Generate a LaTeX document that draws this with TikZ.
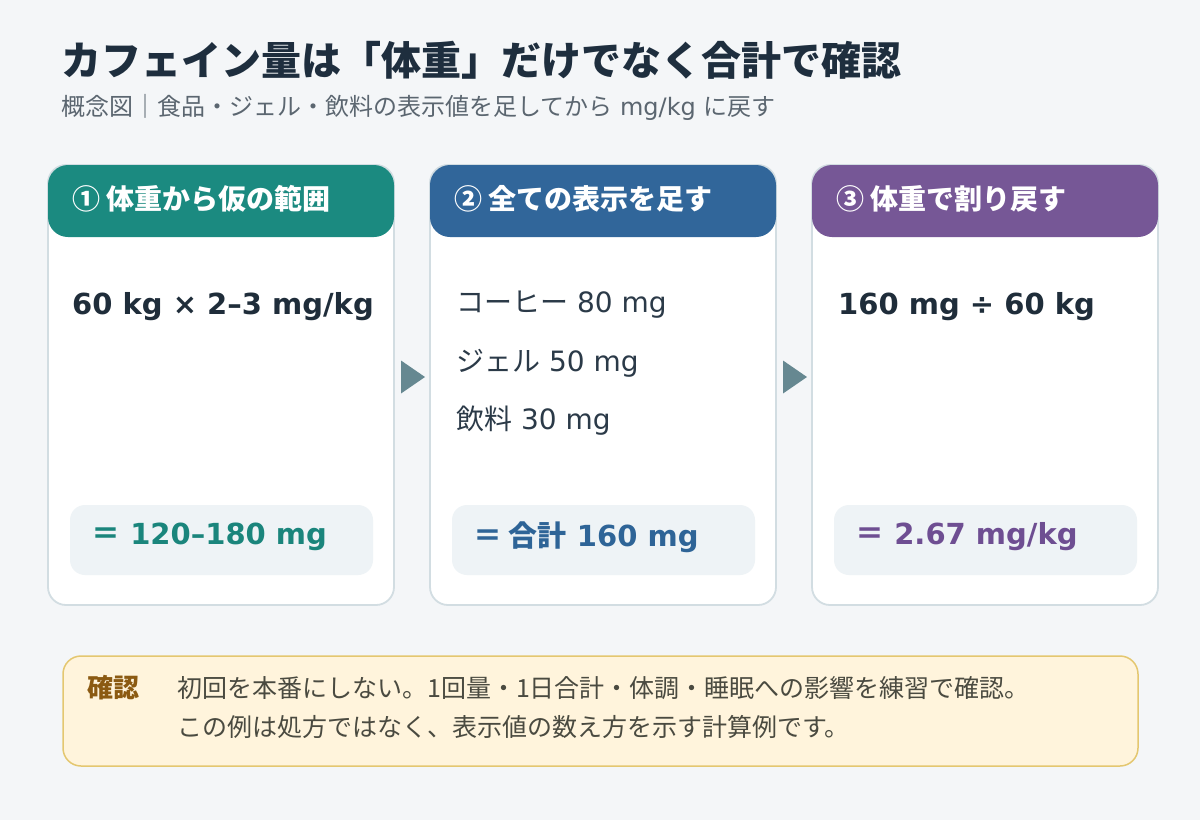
\documentclass[tikz,border=0pt]{standalone}
\usepackage{fontspec}
\setmainfont{DejaVu Sans}
\newfontfamily\jp{Noto Sans CJK JP}
\usetikzlibrary{calc}
\definecolor{bgc}{HTML}{F4F6F8}
\definecolor{titlec}{HTML}{1E2E3E}
\definecolor{subc}{HTML}{5B6670}
\definecolor{tealc}{HTML}{1B8A80}
\definecolor{bluec}{HTML}{31669A}
\definecolor{purplec}{HTML}{765796}
\definecolor{borderc}{HTML}{D2DDE2}
\definecolor{resfill}{HTML}{EEF3F6}
\definecolor{tealt}{HTML}{1A857C}
\definecolor{bluet}{HTML}{2E6497}
\definecolor{purplet}{HTML}{6E4E92}
\definecolor{arrowc}{HTML}{668891}
\definecolor{bodyc}{HTML}{1F2D3A}
\definecolor{bodyr}{HTML}{2B3A48}
\definecolor{notefill}{HTML}{FFF4DC}
\definecolor{noteborder}{HTML}{E4C770}
\definecolor{notelabel}{HTML}{8B5A12}
\definecolor{notetext}{HTML}{4A4A40}
\tikzset{
  card/.style={draw=borderc, line width=1.8pt, fill=white, rounded corners=18pt},
  head/.style={fill=#1, rounded corners=20pt},
  headtext/.style={anchor=west, inner sep=0pt, text=white, font=\jp\bfseries\fontsize{28}{28}\selectfont},
  bodytext/.style={anchor=west, inner sep=0pt, text=bodyr, font=\fontsize{28}{28}\selectfont},
  bodybold/.style={anchor=west, inner sep=0pt, text=bodyc, font=\bfseries\fontsize{29}{29}\selectfont},
  restext/.style={anchor=west, inner sep=0pt, text=#1, font=\bfseries\fontsize{29}{29}\selectfont},
  arrowtri/.style={fill=arrowc},
}
\begin{document}
\begin{tikzpicture}[x=1pt,y=-1pt]
\useasboundingbox (0,0) rectangle (1200,820);
\fill[bgc] (0,0) rectangle (1200,820);

% title
\node[anchor=west, inner sep=0pt, text=titlec, font=\jp\bfseries\fontsize{40}{40}\selectfont] (title) at (61,60) {カフェイン量は「体重」だけでなく合計で確認};
\node[anchor=west, inner sep=0pt, text=subc, font=\fontsize{24}{24}\selectfont] (subtitle) at (61,107) {{\jp 概念図｜食品・ジェル・飲料の表示値を足してから} mg/kg {\jp に戻す}};

% cards
\foreach \x/\c in {48/tealc, 430/bluec, 812/purplec}{
  \draw[card] (\x,165) rectangle ++(346,440);
  \fill[head=\c] (\x,165) rectangle ++(346,72);
  \fill[resfill, rounded corners=15pt] (\x+22,505) rectangle ++(303,70);
}

\node[headtext] (h1) at (72,199) {① 体重から仮の範囲};
\node[headtext] (h2) at (454,199) {② 全ての表示を足す};
\node[headtext] (h3) at (836,199) {③ 体重で割り戻す};

\node[bodybold] (b1) at (72,307) {60 kg × 2–3 mg/kg};
\node[bodytext] (b2a) at (456,305) {{\jp コーヒー} 80 mg};
\node[bodytext] (b2b) at (456,363) {{\jp ジェル} 50 mg};
\node[bodytext] (b2c) at (456,421) {{\jp 飲料} 30 mg};
\node[bodybold] (b3) at (838,307) {160 mg ÷ 60 kg};

\node[restext=tealt] (r1) at (91,537) {{\jp ＝} 120–180 mg};
\node[restext=bluet] (r2) at (473,537) {{\jp ＝ 合計} 160 mg};
\node[restext=purplet] (r3) at (855,537) {{\jp ＝} 2.67 mg/kg};

% arrows between cards
\coordinate (a1) at (413,377);
\coordinate (a2) at (795,377);
\foreach \a in {a1,a2}{
  \fill[arrowtri, shift={(\a)}] (-12,-16.5) -- (12,0) -- (-12,16.5) -- cycle;
}

% note
\draw[fill=notefill, draw=noteborder, line width=1.5pt, rounded corners=18pt] (63,656) rectangle (1138,766);
\node[anchor=west, inner sep=0pt, text=notelabel, font=\jp\bfseries\fontsize{26}{26}\selectfont] (nl) at (87,688) {確認};
\node[anchor=west, inner sep=0pt, text=notetext, font=\jp\fontsize{25}{25}\selectfont] (n1) at (177,688) {初回を本番にしない。1回量・1日合計・体調・睡眠への影響を練習で確認。};
\node[anchor=west, inner sep=0pt, text=notetext, font=\jp\fontsize{25}{25}\selectfont] (n2) at (177,727) {この例は処方ではなく、表示値の数え方を示す計算例です。};
\end{tikzpicture}
\end{document}
